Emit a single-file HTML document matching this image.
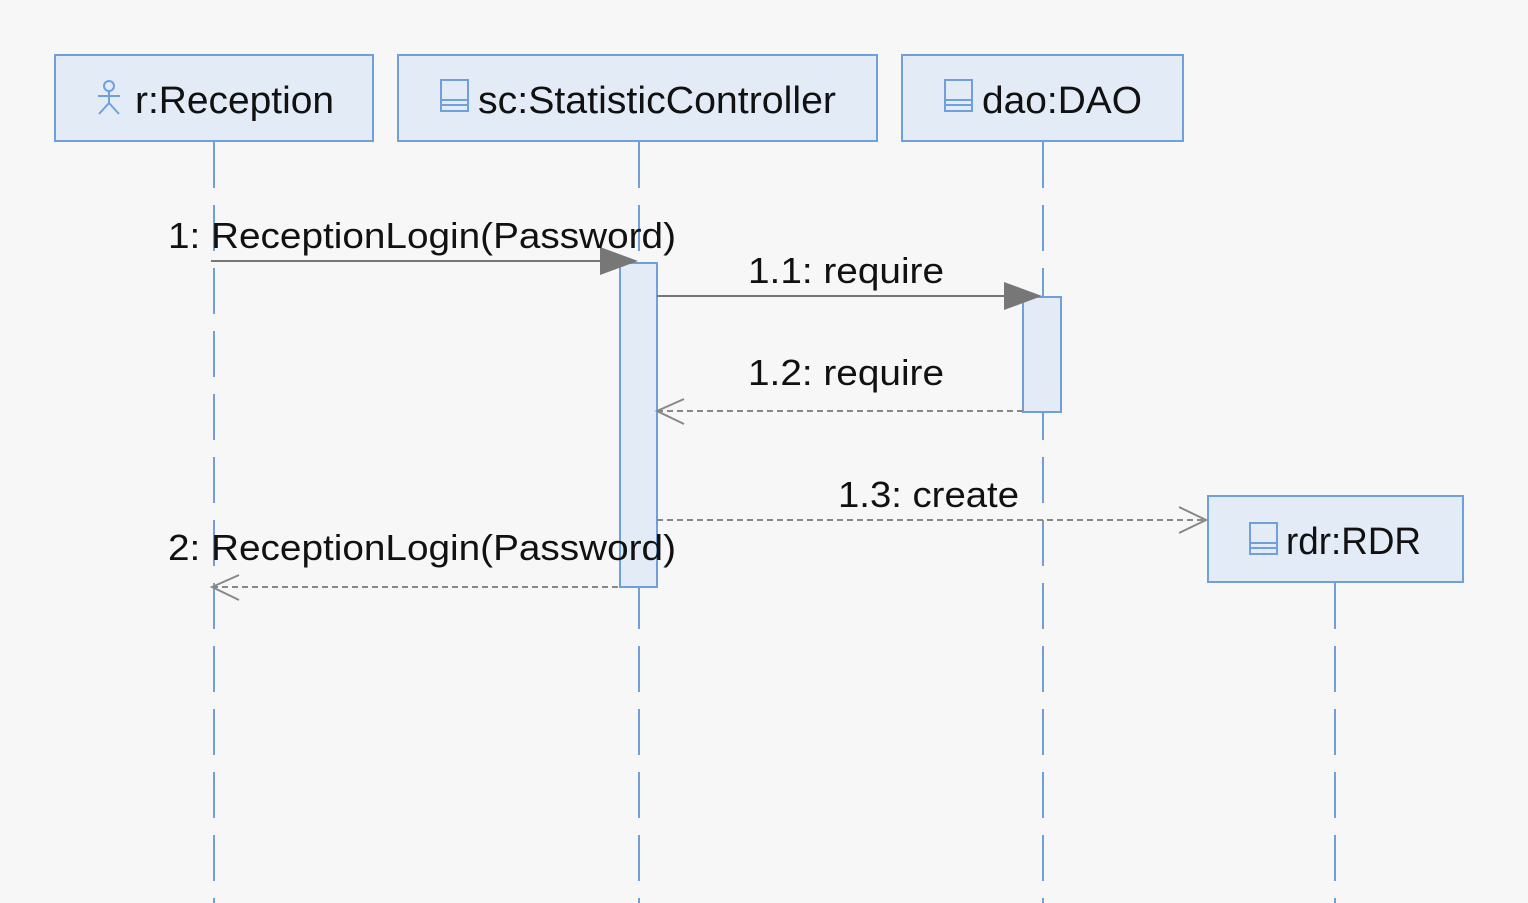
<!DOCTYPE html>
<html><head><style>
html,body{margin:0;padding:0;background:#f7f7f7;}
svg{display:block;}
text{font-family:"Liberation Sans",sans-serif;fill:#111;}
</style></head><body>
<svg width="1528" height="903" viewBox="0 0 1528 903" xmlns="http://www.w3.org/2000/svg">
<rect width="1528" height="903" fill="#f7f7f7"/>
<g stroke="#6fa0dc" stroke-width="2" stroke-dasharray="46 17" fill="none">
<line x1="214" y1="142" x2="214" y2="903"/>
<line x1="639" y1="142" x2="639" y2="903"/>
<line x1="1043" y1="142" x2="1043" y2="903"/>
<line x1="1335" y1="583" x2="1335" y2="903"/>
</g>
<g fill="#e2ebf6" stroke="#6fa0dc" stroke-width="2">
<rect x="55" y="55" width="318" height="86"/>
<rect x="398" y="55" width="479" height="86"/>
<rect x="902" y="55" width="281" height="86"/>
<rect x="1208" y="496" width="255" height="86"/>
<rect x="620" y="263" width="37" height="324"/>
<rect x="1023" y="297" width="38" height="115"/>
</g>
<!-- actor icon -->
<g stroke="#6fa0dc" stroke-width="2" fill="none">
<circle cx="109" cy="86" r="5"/>
<line x1="109" y1="91" x2="109" y2="104"/>
<line x1="98" y1="96" x2="120" y2="96"/>
<line x1="109" y1="103" x2="99" y2="114"/>
<line x1="109" y1="103" x2="119" y2="114"/>
</g>
<!-- class icons -->
<g stroke="#6fa0dc" stroke-width="2" fill="#e2ebf6">
<rect x="441" y="80" width="27" height="31"/><line x1="441" y1="100" x2="468" y2="100"/><line x1="441" y1="105" x2="468" y2="105"/>
<rect x="945" y="80" width="27" height="31"/><line x1="945" y1="100" x2="972" y2="100"/><line x1="945" y1="105" x2="972" y2="105"/>
<rect x="1250" y="523" width="27" height="31"/><line x1="1250" y1="543" x2="1277" y2="543"/><line x1="1250" y1="548" x2="1277" y2="548"/>
</g>
<g font-size="38">
<text x="135" y="113" textLength="199" lengthAdjust="spacingAndGlyphs">r:Reception</text>
<text x="478" y="113" textLength="358" lengthAdjust="spacingAndGlyphs">sc:StatisticController</text>
<text x="982" y="113" textLength="160" lengthAdjust="spacingAndGlyphs">dao:DAO</text>
<text x="1286" y="554" textLength="135" lengthAdjust="spacingAndGlyphs">rdr:RDR</text>
</g>
<!-- messages -->
<g stroke="#777" stroke-width="2" fill="none">
<line x1="211" y1="261" x2="605" y2="261"/>
<line x1="657" y1="296" x2="1008" y2="296"/>
</g>
<g fill="#777">
<polygon points="600,247 638,261 600,275"/>
<polygon points="1004,282 1042,296 1004,310"/>
</g>
<g stroke="#888" stroke-width="2" fill="none" stroke-dasharray="6 4">
<line x1="657" y1="411" x2="1023" y2="411"/>
<line x1="657" y1="520" x2="1206" y2="520"/>
<line x1="212" y1="587" x2="620" y2="587"/>
</g>
<g stroke="#888" stroke-width="2" fill="none">
<polyline points="684,399 657,411 684,424"/>
<polyline points="1179,507 1206,520 1179,533"/>
<polyline points="239,575 212,587 239,600"/>
</g>
<g font-size="36">
<text x="168" y="248" textLength="508" lengthAdjust="spacingAndGlyphs">1: ReceptionLogin(Password)</text>
<text x="748" y="283" textLength="196" lengthAdjust="spacingAndGlyphs">1.1: require</text>
<text x="748" y="385" textLength="196" lengthAdjust="spacingAndGlyphs">1.2: require</text>
<text x="838" y="507" textLength="181" lengthAdjust="spacingAndGlyphs">1.3: create</text>
<text x="168" y="560" textLength="508" lengthAdjust="spacingAndGlyphs">2: ReceptionLogin(Password)</text>
</g>
</svg>
</body></html>
